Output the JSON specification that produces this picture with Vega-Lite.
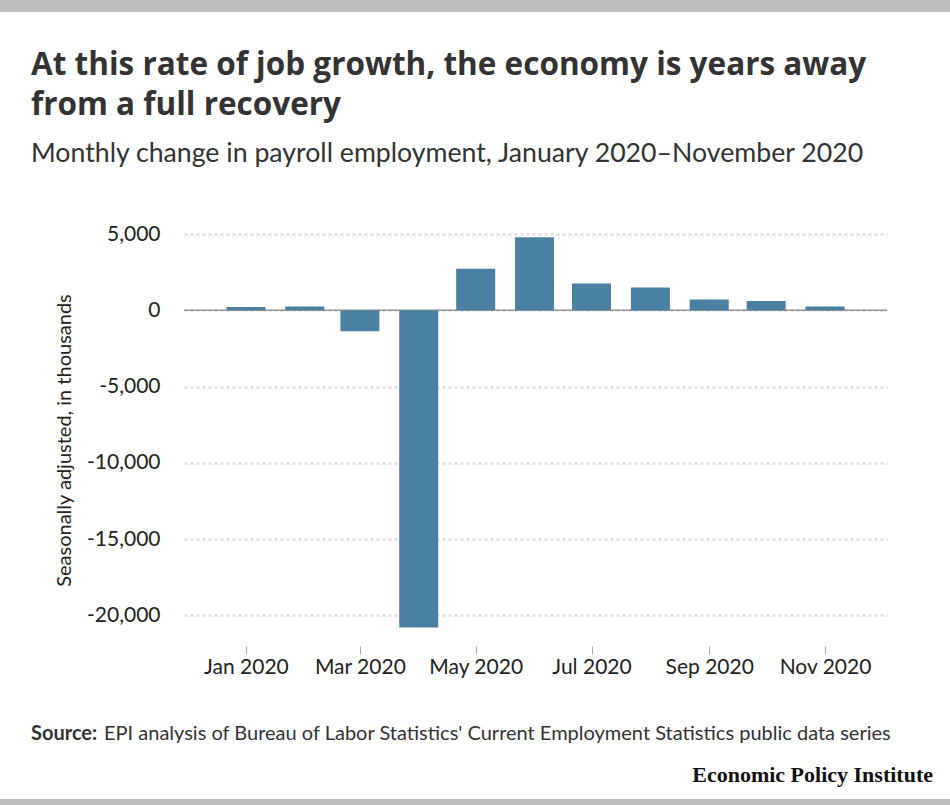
{
  "$schema": "https://vega.github.io/schema/vega-lite/v6.json",
  "autosize": "none",
  "width": 703,
  "height": 412,
  "padding": {"left": 184, "top": 234, "right": 63, "bottom": 159},
  "background": "white",
  "config": {
    "font": "Lato",
    "view": {"stroke": null}
  },
  "layer": [
    {
      "data": {"values": [{"x": 0}]},
      "mark": {"type": "rect", "color": "#bdbdbd", "clip": false},
      "encoding": {
        "x": {"value": -184}, "x2": {"value": 766},
        "y": {"value": -234}, "y2": {"value": -222}
      }
    },
    {
      "data": {"values": [{"x": 0}]},
      "mark": {"type": "rect", "color": "#bdbdbd", "clip": false},
      "encoding": {
        "x": {"value": -184}, "x2": {"value": 766},
        "y": {"value": 565}, "y2": {"value": 571}
      }
    },
    {
      "data": {"values": [{"x": 0}]},
      "mark": {"type": "text", "text": "At this rate of job growth, the economy is years away", "font": "Open Sans", "fontWeight": "bold", "fontSize": 31.5, "color": "#333333", "align": "left", "baseline": "alphabetic", "clip": false},
      "encoding": {"x": {"value": -153}, "y": {"value": -159}}
    },
    {
      "data": {"values": [{"x": 0}]},
      "mark": {"type": "text", "text": "from a full recovery", "font": "Open Sans", "fontWeight": "bold", "fontSize": 31.5, "color": "#333333", "align": "left", "baseline": "alphabetic", "clip": false},
      "encoding": {"x": {"value": -153}, "y": {"value": -119}}
    },
    {
      "data": {"values": [{"x": 0}]},
      "mark": {"type": "text", "text": "Monthly change in payroll employment, January 2020\u2013November 2020", "fontSize": 26.7, "color": "#333333", "align": "left", "baseline": "alphabetic", "clip": false},
      "encoding": {"x": {"value": -153}, "y": {"value": -72}}
    },
    {
      "data": {"values": [{"zero": 0}]},
      "mark": {"type": "rule", "color": "#999999", "strokeWidth": 1.5},
      "encoding": {
        "y": {"field": "zero", "type": "quantitative", "scale": {"domain": [-22000, 5000], "nice": false}}
      }
    },
    {
      "data": {"values": [
        {"month": "2020-01-01", "change": 214},
        {"month": "2020-02-01", "change": 251},
        {"month": "2020-03-01", "change": -1373},
        {"month": "2020-04-01", "change": -20787},
        {"month": "2020-05-01", "change": 2725},
        {"month": "2020-06-01", "change": 4781},
        {"month": "2020-07-01", "change": 1761},
        {"month": "2020-08-01", "change": 1493},
        {"month": "2020-09-01", "change": 711},
        {"month": "2020-10-01", "change": 610},
        {"month": "2020-11-01", "change": 245}
      ]},
      "mark": {"type": "bar", "size": 39, "color": "#4a80a2"},
      "encoding": {
        "x": {
          "field": "month",
          "type": "temporal",
          "scale": {
            "type": "utc",
            "domain": [
              {"year": 2019, "month": 12, "date": 2, "utc": true},
              {"year": 2020, "month": 12, "date": 1, "utc": true}
            ]
          },
          "axis": {
            "title": null,
            "format": "%b %Y",
            "values": [
              {"year": 2020, "month": 1, "date": 1, "utc": true},
              {"year": 2020, "month": 3, "date": 1, "utc": true},
              {"year": 2020, "month": 5, "date": 1, "utc": true},
              {"year": 2020, "month": 7, "date": 1, "utc": true},
              {"year": 2020, "month": 9, "date": 1, "utc": true},
              {"year": 2020, "month": 11, "date": 1, "utc": true}
            ],
            "domain": false,
            "grid": false,
            "ticks": true,
            "tickSize": 8,
            "tickColor": "#aaaaaa",
            "labelFontSize": 21,
            "labelColor": "#222222",
            "labelPadding": 2
          }
        },
        "y": {
          "field": "change",
          "type": "quantitative",
          "scale": {"domain": [-22000, 5000], "nice": false},
          "axis": {
            "title": "Seasonally adjusted, in thousands",
            "titleFontSize": 20,
            "titleFontWeight": "normal",
            "titleColor": "#222222",
            "titlePadding": 12,
            "values": [-20000, -15000, -10000, -5000, 0, 5000],
            "labelExpr": "replace(format(datum.value, ',.0f'), '\u2212', '-')",
            "domain": false,
            "ticks": false,
            "grid": true,
            "gridColor": "#e2e2e2",
            "gridWidth": 3,
            "gridDash": [3, 3],
            "labelFontSize": 21,
            "labelColor": "#222222",
            "labelPadding": 24
          }
        }
      }
    },
    {
      "data": {"values": [{"x": 0}]},
      "mark": {"type": "text", "text": "Source:", "fontWeight": "bold", "fontSize": 20, "color": "#333333", "align": "left", "baseline": "alphabetic", "clip": false},
      "encoding": {"x": {"value": -153}, "y": {"value": 506}}
    },
    {
      "data": {"values": [{"x": 0}]},
      "mark": {"type": "text", "text": "EPI analysis of Bureau of Labor Statistics' Current Employment Statistics public data series", "fontSize": 20, "color": "#333333", "align": "left", "baseline": "alphabetic", "clip": false},
      "encoding": {"x": {"value": -80}, "y": {"value": 506}}
    },
    {
      "data": {"values": [{"x": 0}]},
      "mark": {"type": "text", "text": "Economic Policy Institute", "font": "Liberation Serif", "fontWeight": "bold", "fontSize": 22, "color": "#111111", "align": "right", "baseline": "alphabetic", "clip": false},
      "encoding": {"x": {"value": 749}, "y": {"value": 548}}
    }
  ]
}
